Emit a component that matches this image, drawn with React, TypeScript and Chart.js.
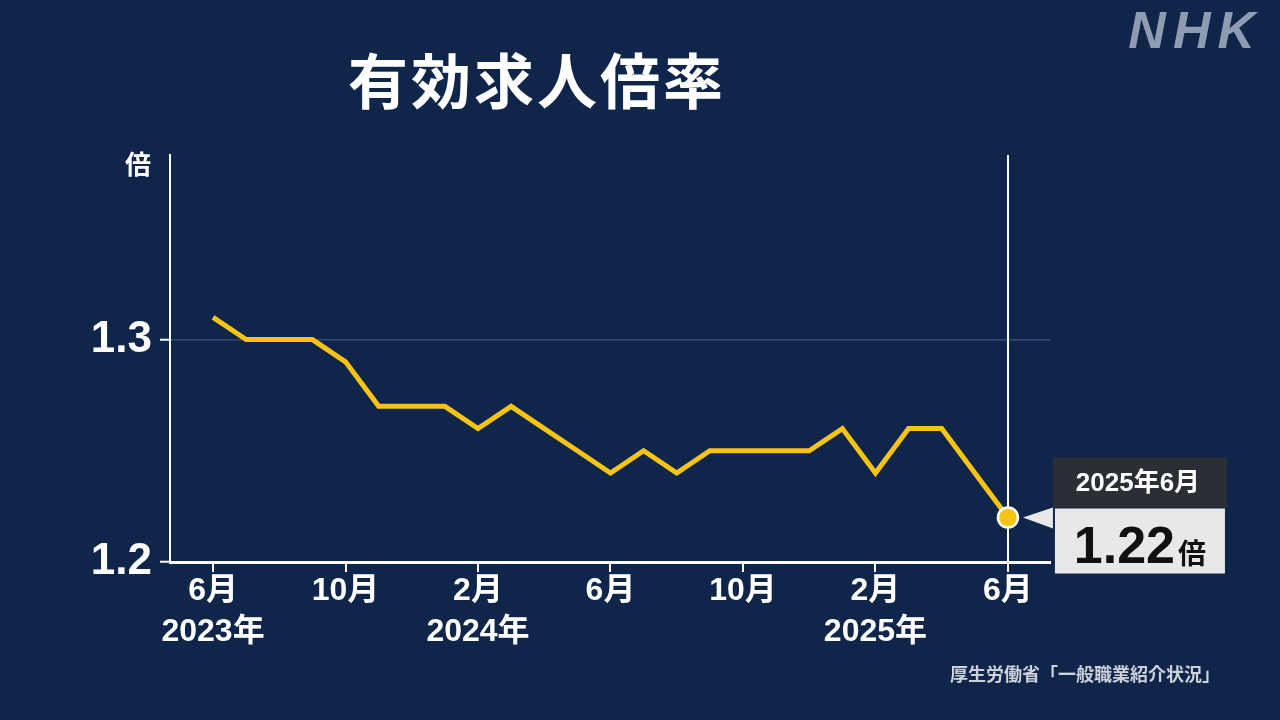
import React, { useEffect, useRef } from "react";
import { Chart, registerables } from "chart.js";

Chart.register(...registerables);

// ---- data ----
const months = [
  "2023年6月", "2023年7月", "2023年8月", "2023年9月", "2023年10月", "2023年11月", "2023年12月",
  "2024年1月", "2024年2月", "2024年3月", "2024年4月", "2024年5月", "2024年6月",
  "2024年7月", "2024年8月", "2024年9月", "2024年10月", "2024年11月", "2024年12月",
  "2025年1月", "2025年2月", "2025年3月", "2025年4月", "2025年5月", "2025年6月",
];
const ratios = [
  1.31, 1.30, 1.30, 1.30, 1.29, 1.27, 1.27,
  1.27, 1.26, 1.27, 1.26, 1.25, 1.24,
  1.25, 1.24, 1.25, 1.25, 1.25, 1.25,
  1.26, 1.24, 1.26, 1.26, 1.24, 1.22,
];
const xTickIndices = [0, 4, 8, 12, 16, 20, 24];
const xTickLabels: (string | string[])[] = [
  ["6月", "2023年"], "10月", ["2月", "2024年"], "6月", "10月", ["2月", "2025年"], "6月",
];
const yTickValues = [1.2, 1.3];
const titleText = "有効求人倍率";
const unitText = "倍";
const sourceText = "厚生労働省「一般職業紹介状況」";
const logoText = "NHK";

// ---- styles ----
const BG = "#10254a";
const YELLOW = "#f5c414";
const FONT = '"Liberation Sans", "Noto Sans CJK JP", sans-serif';
const CJK = '"Noto Sans CJK JP", sans-serif';

const lastIdx = ratios.length - 1;

const calloutPlugin = {
  id: "callout",
  afterDatasetsDraw(chart: any) {
    const meta = chart.getDatasetMeta(0);
    const pt = meta.data[lastIdx];
    if (!pt) return;
    const x = pt.x;
    const y = pt.y;
    const ctx = chart.ctx as CanvasRenderingContext2D;
    ctx.save();
    // header box
    ctx.fillStyle = "#2b2f35";
    ctx.fillRect(x + 45, y - 60, 174, 50);
    // body box
    ctx.fillStyle = "#e8e8e8";
    ctx.fillRect(x + 47, y - 9, 170, 65);
    // pointer triangle
    ctx.beginPath();
    ctx.moveTo(x + 15, y);
    ctx.lineTo(x + 45, y - 10);
    ctx.lineTo(x + 45, y + 11);
    ctx.closePath();
    ctx.fill();
    // header text
    ctx.fillStyle = "#ffffff";
    ctx.font = `bold 26px ${FONT}`;
    ctx.textAlign = "center";
    ctx.textBaseline = "middle";
    ctx.fillText(months[lastIdx], x + 130, y - 34);
    // value text
    const valStr = ratios[lastIdx].toFixed(2);
    ctx.font = `bold 52px ${FONT}`;
    const w1 = ctx.measureText(valStr).width;
    ctx.font = `bold 28px ${CJK}`;
    const w2 = ctx.measureText(unitText).width;
    const total = w1 + 3 + w2;
    const startX = x + 132 - total / 2;
    ctx.textAlign = "left";
    ctx.textBaseline = "alphabetic";
    ctx.fillStyle = "#111111";
    ctx.font = `bold 52px ${FONT}`;
    ctx.fillText(valStr, startX, y + 45);
    ctx.font = `bold 28px ${CJK}`;
    ctx.fillText(unitText, startX + w1 + 3, y + 46);
    ctx.restore();
  },
};

export default function App() {
  const canvasRef = useRef<HTMLCanvasElement | null>(null);

  useEffect(() => {
    const canvas = canvasRef.current;
    if (!canvas) return;
    const chart = new Chart(canvas, {
      type: "line",
      data: {
        datasets: [
          {
            label: titleText,
            data: ratios.map((v, i) => ({ x: i, y: v })),
            borderColor: YELLOW,
            borderWidth: 5,
            tension: 0,
            borderJoinStyle: "miter",
            pointRadius: (c: any) => (c.dataIndex === lastIdx ? 10 : 0),
            pointHoverRadius: (c: any) => (c.dataIndex === lastIdx ? 10 : 0),
            pointBackgroundColor: YELLOW,
            pointBorderColor: "#ffffff",
            pointBorderWidth: 2.5,
          } as any,
        ],
      },
      options: {
        responsive: false,
        animation: false,
        events: [],
        layout: { padding: { top: 155, right: 230, left: 0, bottom: 0 } },
        plugins: {
          legend: { display: false },
          tooltip: { enabled: false },
          title: { display: false },
        },
        scales: {
          x: {
            type: "linear",
            min: -1.3,
            max: 25.27,
            afterBuildTicks: (s: any) => {
              s.ticks = xTickIndices.map((v) => ({ value: v }));
            },
            afterFit: (s: any) => {
              s.height = 158;
            },
            grid: {
              color: (c: any) =>
                c.tick && c.tick.value === lastIdx ? "#ffffff" : "rgba(0,0,0,0)",
              lineWidth: 2,
              tickColor: "#ffffff",
              tickLength: 10,
              tickWidth: 2,
            },
            border: { color: "#ffffff", width: 3 },
            ticks: {
              color: "#ffffff",
              font: { family: FONT, size: 32, weight: "bold", lineHeight: 1.3 },
              padding: -2,
              maxRotation: 0,
              autoSkip: false,
              callback: (v: any) => {
                const k = xTickIndices.indexOf(Number(v));
                return k >= 0 ? xTickLabels[k] : "";
              },
            },
          },
          y: {
            type: "linear",
            min: 1.2,
            max: 1.383,
            afterBuildTicks: (s: any) => {
              s.ticks = yTickValues.map((v) => ({ value: v }));
            },
            afterFit: (s: any) => {
              s.width = 170;
            },
            grid: {
              color: (c: any) =>
                c.tick && Math.abs(c.tick.value - 1.3) < 1e-6
                  ? "rgba(120,145,185,0.35)"
                  : "rgba(0,0,0,0)",
              lineWidth: 1.5,
              tickColor: "#ffffff",
              tickLength: 10,
              tickWidth: 2,
            },
            border: { color: "#ffffff", width: 2 },
            ticks: {
              color: "#ffffff",
              font: { family: FONT, size: 44, weight: "bold" },
              padding: 8,
              callback: (v: any) => Number(v).toFixed(1),
            },
          },
        },
      } as any,
      plugins: [calloutPlugin],
    });
    return () => chart.destroy();
  }, []);

  return (
    <div
      style={{
        position: "absolute",
        left: 0,
        top: 0,
        width: 1280,
        height: 720,
        background: BG,
        overflow: "hidden",
      }}
    >
      <canvas ref={canvasRef} width={1280} height={720} style={{ position: "absolute", left: 0, top: 0 }} />
      <div
        style={{
          position: "absolute",
          left: 0,
          width: 1074,
          top: 46,
          textAlign: "center",
          color: "#ffffff",
          fontFamily: CJK,
          fontWeight: 700,
          fontSize: 60,
          lineHeight: "64px",
          letterSpacing: 3,
        }}
      >
        {titleText}
      </div>
      <div
        style={{
          position: "absolute",
          left: 125,
          top: 148,
          color: "#ffffff",
          fontFamily: CJK,
          fontWeight: 700,
          fontSize: 26,
          lineHeight: "30px",
        }}
      >
        {unitText}
      </div>
      <div
        style={{
          position: "absolute",
          right: 18,
          top: 2,
          color: "#8e9bb0",
          fontFamily: '"Liberation Sans", sans-serif',
          fontWeight: 900,
          fontStyle: "italic",
          fontSize: 52,
          lineHeight: "56px",
          letterSpacing: 7,
        }}
      >
        {logoText}
      </div>
      <div
        style={{
          position: "absolute",
          right: 60,
          top: 662,
          color: "#cdd2da",
          fontFamily: CJK,
          fontWeight: 700,
          fontSize: 18,
          lineHeight: "22px",
        }}
      >
        {sourceText}
      </div>
    </div>
  );
}
